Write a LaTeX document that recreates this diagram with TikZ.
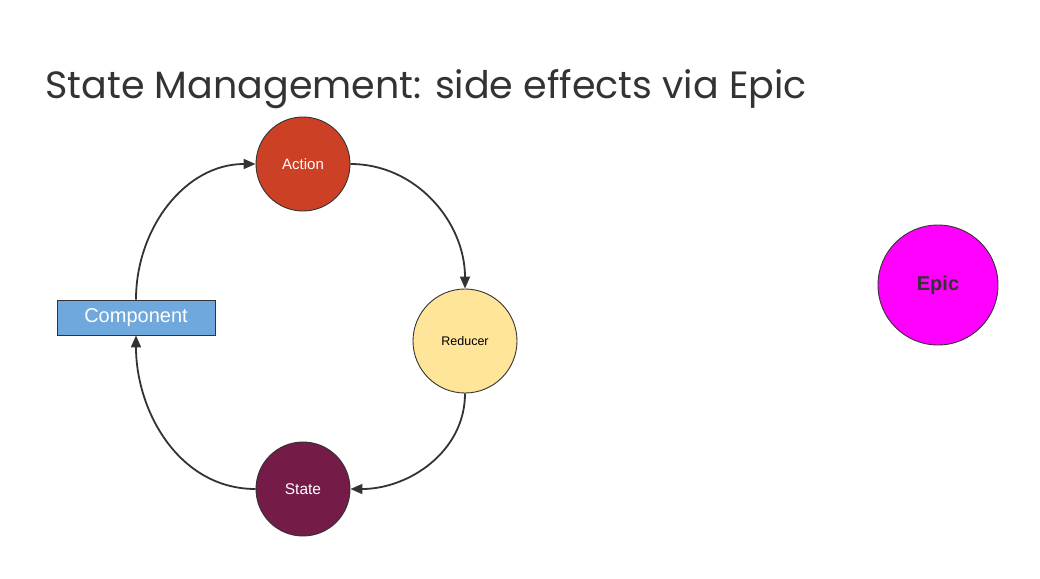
\documentclass[tikz,border=0pt]{standalone}
\usepackage{fontspec}
\setmainfont{Liberation Sans}
\newfontfamily\titlefont{Poppins}
\usetikzlibrary{arrows.meta}
\definecolor{actionc}{HTML}{CC4125}
\definecolor{reducerc}{HTML}{FFE599}
\definecolor{statec}{HTML}{741B47}
\definecolor{compc}{HTML}{6FA8DC}
\definecolor{epicc}{HTML}{FF00FF}
\definecolor{linec}{HTML}{333333}
\begin{document}
\begin{tikzpicture}[x=1pt,y=-1pt,
  circ/.style={circle,draw=linec,line width=0.9pt,inner sep=0pt},
  conn/.style={draw=linec,line width=1.8pt,-{Triangle[length=12pt,width=10pt]}}]
\useasboundingbox (0,0) rectangle (1040,578);
\node[anchor=base west,text=linec,font=\titlefont\fontsize{38}{44}\selectfont] (title) at (42,98) {State Management: side effects via Epic};
\node[circ,fill=actionc,minimum size=94pt,text=white,font=\fontsize{15}{17}\selectfont] (action) at (303,164) {Action};
\node[circ,fill=reducerc,minimum size=104pt,text=black,font=\fontsize{12.5}{14}\selectfont] (reducer) at (465,341) {Reducer};
\node[circ,fill=statec,minimum size=94pt,text=white,font=\fontsize{15.5}{17}\selectfont] (state) at (303,489) {State};
\node[draw=linec,line width=0.9pt,fill=compc,minimum width=158pt,minimum height=35pt,inner sep=0pt,text=white,font=\fontsize{20}{22}\selectfont] (comp) at (136,317.5) {Component};
\node[circ,fill=epicc,minimum size=120pt,text=linec,font=\bfseries\fontsize{20}{22}\selectfont] (epic) at (938,285) {Epic};
\draw[conn] (comp.north) to[out=90,in=180] (action.west);
\draw[conn] (action.east) to[out=0,in=90] (reducer.north);
\draw[conn] (reducer.south) to[out=-90,in=0] (state.east);
\draw[conn] (state.west) to[out=180,in=-90] (comp.south);
\end{tikzpicture}
\end{document}
